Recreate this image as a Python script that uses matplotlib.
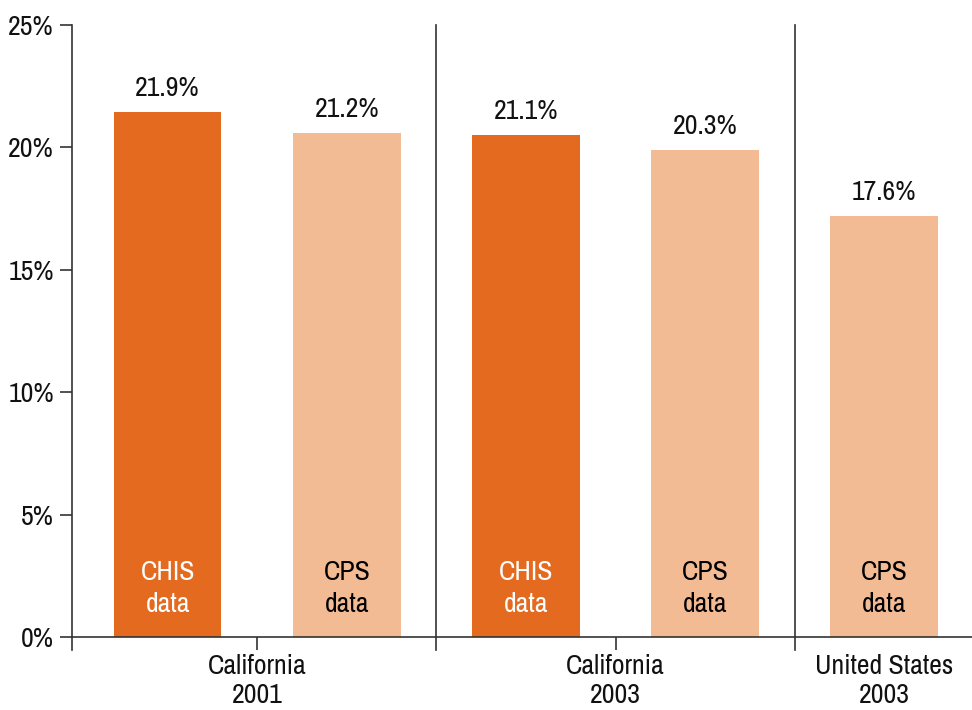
import matplotlib
matplotlib.use("Agg")
import matplotlib.pyplot as plt
import matplotlib.transforms as mtransforms
from matplotlib import font_manager

# pick a condensed family if one is installed
fam = None
stretch = "normal"
cands = []
for f in font_manager.fontManager.ttflist:
    nm = f.name
    st = f.stretch
    if ("Narrow" in nm or "Condensed" in nm) and f.weight in (400, "normal", "regular"):
        cands.append((nm, "normal"))
    elif st not in ("normal", 500) and f.weight in (400, "normal", "regular"):
        cands.append((nm, st))
if cands:
    fam, stretch = sorted(cands)[0]
else:
    fam = "Roboto"
condensed = fam != "Roboto"
plt.rcParams['font.family'] = [fam, 'DejaVu Sans']
plt.rcParams['font.stretch'] = stretch
FS = 20 if condensed else 17

# Data
bar_values = [21.45, 20.6, 20.5, 19.9, 17.2]
bar_labels = ["21.9%", "21.2%", "21.1%", "20.3%", "17.6%"]
bar_sources = ["CHIS\ndata", "CPS\ndata", "CHIS\ndata", "CPS\ndata", "CPS\ndata"]
group_labels = ["California\n2001", "California\n2003", "United States\n2003"]
group_centers = [0.5, 2.5, 4.0]
separators = [1.5, 3.5]
yticks = [0, 5, 10, 15, 20, 25]
ytick_labels = ["0%", "5%", "10%", "15%", "20%", "25%"]

dark = "#E36A1F"
light = "#F3BB94"
colors = [dark if s.startswith("CHIS") else light for s in bar_sources]
text_colors = ["white" if s.startswith("CHIS") else "black" for s in bar_sources]
axis_color = "#333333"
txt = "#111111"

fig = plt.figure(figsize=(9.72, 7.10), dpi=100)
ax = fig.add_axes([0.0741, 0.1028, 0.9259, 0.862])

x = list(range(len(bar_values)))
ax.bar(x, bar_values, width=0.6, color=colors, zorder=2)

ax.set_xlim(-0.534, 4.49)
ax.set_ylim(0, 25)

for xi, v, lab in zip(x, bar_values, bar_labels):
    ax.annotate(lab, (xi, v), xytext=(0, 8), textcoords="offset points",
                ha="center", va="bottom", fontsize=FS, color=txt)

for xi, s, tc in zip(x, bar_sources, text_colors):
    ax.text(xi, 2.0, s, ha="center", va="center", fontsize=FS, color=tc,
            linespacing=1.35, zorder=3)

for sp in ["top", "right"]:
    ax.spines[sp].set_visible(False)
ax.spines["left"].set_color(axis_color)
ax.spines["bottom"].set_color(axis_color)
ax.spines["left"].set_linewidth(1.2)
ax.spines["bottom"].set_linewidth(1.2)

ax.set_yticks(yticks)
ax.set_yticklabels(ytick_labels, fontsize=FS, color=txt)
ax.tick_params(axis="y", length=9, width=1.2, color=axis_color, pad=4)

ax.set_xticks(group_centers[:2])
ax.set_xticklabels([])
ax.tick_params(axis="x", length=9, width=1.2, color=axis_color)

trans = mtransforms.blended_transform_factory(ax.transData, ax.transAxes)
for gx, gl in zip(group_centers, group_labels):
    ax.text(gx, -0.027, gl, transform=trans, ha="center", va="top",
            fontsize=FS, color=txt, linespacing=1.22)

for sx in separators:
    ax.plot([sx, sx], [-0.022, 1.0], transform=trans, color=axis_color,
            lw=1.2, clip_on=False, zorder=1)
ax.plot([-0.534, -0.534], [-0.022, 0], transform=trans, color=axis_color,
        lw=1.2, clip_on=False)

fig.savefig("out.png", dpi=100)
